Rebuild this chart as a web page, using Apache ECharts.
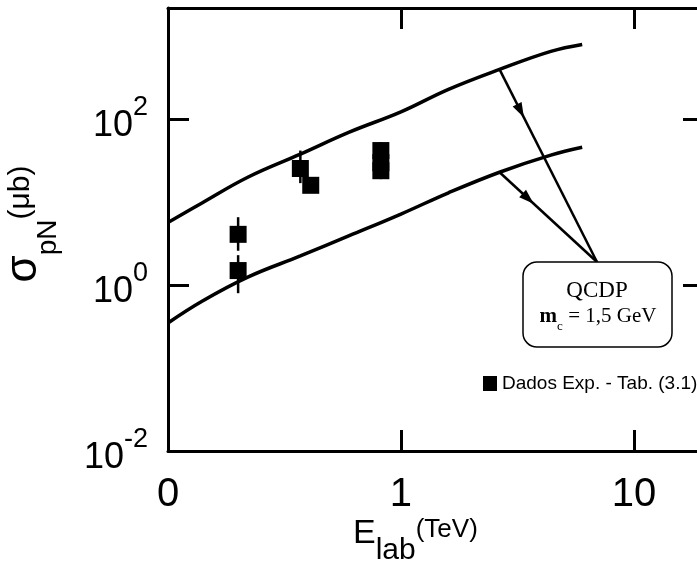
<!DOCTYPE html>
<html>
<head>
<meta charset="utf-8">
<title>sigma pN x E lab</title>
<style>
html, body { margin: 0; padding: 0; background: #fff; }
#main { width: 697px; height: 562px; }
</style>
<script src="https://cdn.jsdelivr.net/npm/echarts@6/dist/echarts.min.js"></script>
</head>
<body>
<div id="main"></div>
<script>
// curvas QCDP (m_c = 1,5 GeV): limite superior e inferior
var curveE = [0.1, 0.14, 0.22, 0.37, 0.6, 1.0, 1.6, 2.65, 4.4, 6.0];
var upperSigma = [5.7, 9.8, 20, 38, 70, 123, 230, 400, 660, 800];
var lowerSigma = [0.35, 0.64, 1.25, 2.25, 3.95, 7.2, 13, 23, 37, 46];

// dados experimentais (Tab. 3.1)
var dataE = [0.2, 0.2, 0.37, 0.41, 0.82, 0.82, 0.82];
var dataSigma = [4.1, 1.5, 25.5, 16, 42, 30, 24];
var errLow = [2.6, 0.8, 17, 13, 34, 24, 19];
var errHigh = [6.6, 2.3, 42, 19, 53, 37, 29];

// rotulos dos eixos
var xTickLabels = { '0.1': '0', '1': '1', '10': '10' };
var yTickExp = [-2, 0, 2];

var arrowIdx = 7;   // ponto das curvas de onde saem as setas
var font = 'Liberation Sans, Arial, sans-serif';
var serif = 'Liberation Serif, Times New Roman, serif';

var chart = echarts.init(document.getElementById('main'));

var axisLine = { show: true, lineStyle: { color: '#000', width: 3 } };
var axisTick = { show: true, inside: true, length: 21, lineStyle: { color: '#000', width: 3 } };

function isPow10(v) {
    var k = Math.log10(v);
    return Math.abs(k - Math.round(k)) < 1e-6;
}

chart.setOption({
    animation: false,
    grid: { left: 168, top: 8, width: 536, height: 443, outerBoundsMode: 'none' },
    legend: {
        data: [{ name: 'Dados Exp. - Tab. (3.1)', icon: 'rect' }],
        left: 483, top: 374, padding: 0,
        itemWidth: 14, itemHeight: 15,
        selectedMode: false,
        itemStyle: { opacity: 1 },
        textStyle: { fontFamily: font, fontSize: 19, color: '#000' }
    },
    xAxis: [{
        type: 'log', logBase: 10, min: 0.1, max: 20, interval: 1,
        position: 'bottom',
        axisLine: axisLine, axisTick: axisTick,
        splitLine: { show: false },
        axisLabel: {
            margin: 24, color: '#000', fontFamily: font, fontSize: 40,
            showMinLabel: true, showMaxLabel: false, hideOverlap: false,
            formatter: function (v) {
                if (!isPow10(v)) return '';
                return xTickLabels[String(Math.pow(10, Math.round(Math.log10(v))))] || '';
            }
        }
    }, {
        type: 'log', logBase: 10, min: 0.1, max: 20, interval: 1,
        position: 'top',
        axisLine: axisLine, axisTick: axisTick,
        splitLine: { show: false },
        axisLabel: { show: false }
    }],
    yAxis: [{
        type: 'log', logBase: 10, min: 0.01, max: 2200, interval: 2,
        position: 'left',
        axisLine: axisLine, axisTick: axisTick,
        splitLine: { show: false },
        axisLabel: {
            margin: 20, color: '#000', fontFamily: font,
            showMinLabel: true, showMaxLabel: false,
            formatter: function (v) {
                if (!isPow10(v)) return '';
                var k = Math.round(Math.log10(v));
                if (yTickExp.indexOf(k) < 0) return '';
                return '{b|10}{s|' + k + '}';
            },
            rich: {
                b: { fontFamily: font, fontSize: 36, lineHeight: 50, verticalAlign: 'bottom' },
                s: { fontFamily: font, fontSize: 27, lineHeight: 27, verticalAlign: 'top' }
            }
        }
    }, {
        type: 'log', logBase: 10, min: 0.01, max: 2200, interval: 2,
        position: 'right',
        axisLine: axisLine, axisTick: axisTick,
        splitLine: { show: false },
        axisLabel: { show: false }
    }],
    series: [{
        name: 'QCDP sup',
        type: 'line',
        data: curveE.map(function (e, i) { return [e, upperSigma[i]]; }),
        smooth: 0.4, symbol: 'none',
        lineStyle: { color: '#000', width: 3.5 }
    }, {
        name: 'QCDP inf',
        type: 'line',
        data: curveE.map(function (e, i) { return [e, lowerSigma[i]]; }),
        smooth: 0.4, symbol: 'none',
        lineStyle: { color: '#000', width: 3.5 }
    }, {
        name: 'erros',
        type: 'custom',
        z: 2,
        data: dataE.map(function (e, i) { return [e, errLow[i], errHigh[i]]; }),
        renderItem: function (params, api) {
            var a = api.coord([api.value(0), api.value(1)]);
            var b = api.coord([api.value(0), api.value(2)]);
            return {
                type: 'line',
                shape: { x1: a[0], y1: a[1], x2: b[0], y2: b[1] },
                style: { stroke: '#000', lineWidth: 2.5 }
            };
        }
    }, {
        name: 'Dados Exp. - Tab. (3.1)',
        type: 'scatter',
        z: 5,
        data: dataE.map(function (e, i) { return [e, dataSigma[i]]; }),
        symbol: 'rect', symbolSize: 17,
        itemStyle: { color: '#000', opacity: 1 }
    }]
});

// setas da caixa QCDP ate as curvas
var boxTop = [597, 262];
function arrow(from, to, f) {
    var dx = to[0] - from[0], dy = to[1] - from[1];
    var len = Math.sqrt(dx * dx + dy * dy);
    var ux = dx / len, uy = dy / len;
    var tip = [from[0] + dx * f, from[1] + dy * f];
    var back = [tip[0] - ux * 15, tip[1] - uy * 15];
    return [{
        type: 'line',
        shape: { x1: from[0], y1: from[1], x2: to[0], y2: to[1] },
        style: { stroke: '#000', lineWidth: 2.5 }
    }, {
        type: 'polygon',
        shape: { points: [tip, [back[0] - uy * 5, back[1] + ux * 5], [back[0] + uy * 5, back[1] - ux * 5]] },
        style: { fill: '#000' }
    }];
}
var pUp = chart.convertToPixel({ seriesIndex: 0 }, [curveE[arrowIdx], upperSigma[arrowIdx]]);
var pLo = chart.convertToPixel({ seriesIndex: 1 }, [curveE[arrowIdx], lowerSigma[arrowIdx]]);

var graphics = [].concat(arrow(pUp, boxTop, 0.25), arrow(pLo, boxTop, 0.35));
graphics.push({
    type: 'rect',
    shape: { x: 523, y: 262, width: 149, height: 85, r: 14 },
    style: { fill: '#fff', stroke: '#000', lineWidth: 1.5 }
}, {
    type: 'text',
    style: { x: 597, y: 291, text: 'QCDP', align: 'center', verticalAlign: 'middle', font: '23px ' + serif, fill: '#000' }
}, {
    type: 'text',
    style: {
        x: 598, y: 306, align: 'center', verticalAlign: 'top',
        text: '{m|m}{c|c}{t| = 1,5 GeV}',
        rich: {
            m: { fontFamily: serif, fontSize: 21, fontWeight: 'bold', lineHeight: 21, verticalAlign: 'top' },
            c: { fontFamily: serif, fontSize: 13, lineHeight: 13, padding: [14, 0, 0, 0], verticalAlign: 'top' },
            t: { fontFamily: serif, fontSize: 21, lineHeight: 21, verticalAlign: 'top' }
        }
    }
}, {
    // titulo do eixo x
    type: 'text',
    style: {
        x: 353, y: 517, align: 'left', verticalAlign: 'top',
        text: '{e|E}{l|lab}{u|(TeV)}',
        rich: {
            e: { fontFamily: font, fontSize: 34, lineHeight: 34, verticalAlign: 'top' },
            l: { fontFamily: font, fontSize: 30, lineHeight: 49, verticalAlign: 'bottom' },
            u: { fontFamily: font, fontSize: 26, lineHeight: 26, verticalAlign: 'top' }
        }
    }
}, {
    // titulo do eixo y
    type: 'text',
    x: 2, y: 224, rotation: Math.PI / 2,
    style: {
        x: 0, y: 0, align: 'center', verticalAlign: 'top',
        text: '{g|σ}{p|pN}{u|(μb)}',
        rich: {
            g: { fontFamily: font, fontSize: 44, lineHeight: 44, verticalAlign: 'top' },
            p: { fontFamily: font, fontSize: 28, lineHeight: 28, padding: [32, 0, 0, 0], verticalAlign: 'top' },
            u: { fontFamily: font, fontSize: 30, lineHeight: 30, padding: [4, 0, 0, 0], verticalAlign: 'top' }
        }
    }
});
chart.setOption({ graphic: graphics });
</script>
</body>
</html>
